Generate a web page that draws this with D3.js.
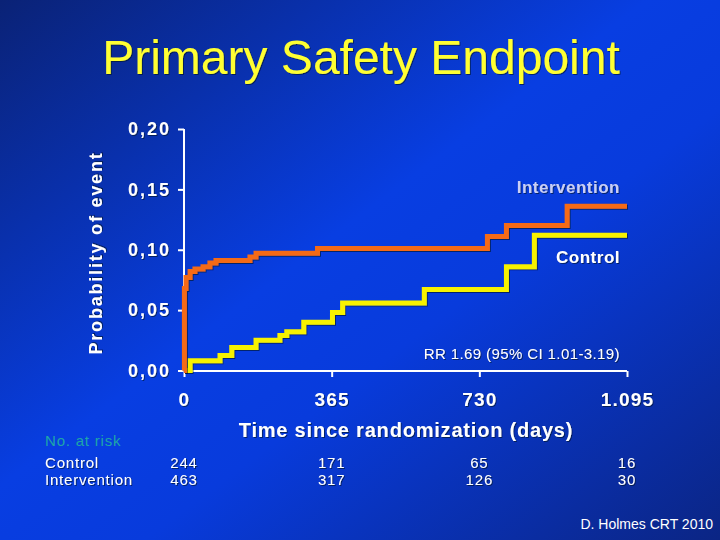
<!DOCTYPE html>
<html><head><meta charset="utf-8">
<script src="https://cdn.jsdelivr.net/npm/d3@7"></script>
<style>html,body{margin:0;padding:0;background:#0a35c8;}svg{display:block;}</style>
</head><body>
<script>
const title = "Primary Safety Endpoint";
const interventionDays = [0, 1, 5, 15, 27, 47, 64, 79, 163, 178, 330, 750, 797, 947, 1095];
const interventionVals = [0, 0.068, 0.077, 0.082, 0.084, 0.086, 0.089, 0.091, 0.094, 0.097, 0.101, 0.111, 0.120, 0.136, 0.136];
const controlDays = [0, 15, 89, 118, 178, 237, 254, 296, 367, 392, 594, 797, 866, 1095];
const controlVals = [0, 0.008, 0.0125, 0.019, 0.025, 0.029, 0.032, 0.040, 0.048, 0.056, 0.067, 0.086, 0.112, 0.112];
const xTicks = [0, 365, 730, 1095];
const xTickLabels = ["0", "365", "730", "1.095"];
const yTicks = [0, 0.05, 0.10, 0.15, 0.20];
const yTickLabels = ["0,00", "0,05", "0,10", "0,15", "0,20"];
const riskGroups = ["Control", "Intervention"];
const riskControl = [244, 171, 65, 16];
const riskIntervention = [463, 317, 126, 30];

const W = 720, H = 540;
const svg = d3.select("body").append("svg").attr("width", W).attr("height", H);
const defs = svg.append("defs");
const g1 = defs.append("linearGradient").attr("id", "bg")
  .attr("x1", "0").attr("y1", "0").attr("x2", "1").attr("y2", "1");
g1.append("stop").attr("offset", "0").attr("stop-color", "#0a2276");
g1.append("stop").attr("offset", "0.45").attr("stop-color", "#083ee2");
g1.append("stop").attr("offset", "0.6").attr("stop-color", "#083bdc");
g1.append("stop").attr("offset", "1").attr("stop-color", "#0b2584");
svg.append("rect").attr("width", W).attr("height", H).attr("fill", "url(#bg)");

const sh = defs.append("filter").attr("id", "sh").attr("x", "-10%").attr("y", "-10%").attr("width", "130%").attr("height", "140%");
sh.append("feDropShadow").attr("dx", 1).attr("dy", 1).attr("stdDeviation", 0.6).attr("flood-color", "#000820").attr("flood-opacity", 0.6);

const font = "'Liberation Sans', Arial, sans-serif";

svg.append("text").text(title).attr("x", 361).attr("y", 74)
  .attr("text-anchor", "middle").attr("font-family", font).attr("font-size", 48)
  .attr("fill", "#ffff33").attr("filter", "url(#sh)");

const x = d3.scaleLinear().domain([0, 1095]).range([184, 627]);
const y = d3.scaleLinear().domain([0, 0.20]).range([370.5, 129]);

// Y axis
const yAxis = svg.append("g").attr("transform", "translate(184,0)")
  .call(d3.axisLeft(y).tickValues(yTicks).tickFormat((d, i) => yTickLabels[i]).tickSize(6).tickPadding(7));
yAxis.select(".domain").attr("stroke", "#fff").attr("stroke-width", 2).attr("d", "M0," + y(0.20) + "V" + y(0));
yAxis.selectAll(".tick line").attr("stroke", "#fff").attr("stroke-width", 2);
yAxis.selectAll(".tick text").attr("fill", "#fff").attr("font-family", font)
  .attr("font-size", 18).attr("font-weight", "bold").attr("letter-spacing", 2).attr("filter", "url(#sh)");

// X axis
const xAxis = svg.append("g").attr("transform", "translate(0,371)")
  .call(d3.axisBottom(x).tickValues(xTicks).tickFormat((d, i) => xTickLabels[i]).tickSize(6).tickPadding(16));
xAxis.select(".domain").attr("stroke", "#fff").attr("stroke-width", 2).attr("d", "M" + x(0) + ",0H" + x(1095));
xAxis.selectAll(".tick line").attr("stroke", "#fff").attr("stroke-width", 2);
xAxis.selectAll(".tick text").attr("fill", "#fff").attr("font-family", font)
  .attr("font-size", 19).attr("font-weight", "bold").attr("letter-spacing", 1.2).attr("filter", "url(#sh)");

svg.append("text").text("Probability of event")
  .attr("transform", "translate(102,253) rotate(-90)").attr("text-anchor", "middle")
  .attr("font-family", font).attr("font-size", 18).attr("font-weight", "bold").attr("letter-spacing", 1.8)
  .attr("fill", "#fff").attr("filter", "url(#sh)");

svg.append("text").text("Time since randomization (days)").attr("x", 406).attr("y", 437)
  .attr("text-anchor", "middle").attr("font-family", font).attr("font-size", 20).attr("font-weight", "bold")
  .attr("letter-spacing", 0.8).attr("fill", "#fff").attr("filter", "url(#sh)");

// Curves
const line = d3.line().curve(d3.curveStepAfter);
const ctrlPts = controlDays.map((d, i) => [x(d), y(controlVals[i])]);
const intPts = interventionDays.map((d, i) => [x(d), y(interventionVals[i])]);
svg.append("path").attr("d", line(ctrlPts)).attr("fill", "none")
  .attr("stroke", "#f7f200").attr("stroke-width", 5).attr("filter", "url(#sh)");
svg.append("path").attr("d", line(intPts)).attr("fill", "none")
  .attr("stroke", "#f56a16").attr("stroke-width", 5).attr("filter", "url(#sh)");

svg.append("text").text("Intervention").attr("x", 620).attr("y", 193)
  .attr("text-anchor", "end").attr("font-family", font).attr("font-size", 17).attr("font-weight", "bold")
  .attr("letter-spacing", 0.5).attr("fill", "#c9cff5").attr("filter", "url(#sh)");
svg.append("text").text("Control").attr("x", 620).attr("y", 263)
  .attr("text-anchor", "end").attr("font-family", font).attr("font-size", 17).attr("font-weight", "bold")
  .attr("letter-spacing", 0.5).attr("fill", "#fff").attr("filter", "url(#sh)");

svg.append("text").text("RR 1.69 (95% CI 1.01-3.19)").attr("x", 620).attr("y", 359)
  .attr("text-anchor", "end").attr("font-family", font).attr("font-size", 15).attr("letter-spacing", 0.4)
  .attr("fill", "#fff").attr("filter", "url(#sh)");

// Number at risk
svg.append("text").text("No. at risk").attr("x", 45).attr("y", 446)
  .attr("font-family", font).attr("font-size", 15).attr("letter-spacing", 0.8).attr("fill", "#1ea5a8");
const rows = [riskControl, riskIntervention];
rows.forEach((vals, r) => {
  const yy = 468 + r * 17;
  svg.append("text").text(riskGroups[r]).attr("x", 45).attr("y", yy)
    .attr("font-family", font).attr("font-size", 15).attr("letter-spacing", 0.8)
    .attr("fill", "#fff").attr("filter", "url(#sh)");
  svg.selectAll(null).data(vals).enter().append("text")
    .text(d => d).attr("x", (d, i) => x(xTicks[i])).attr("y", yy)
    .attr("text-anchor", "middle").attr("font-family", font).attr("font-size", 15).attr("letter-spacing", 0.8)
    .attr("fill", "#fff").attr("filter", "url(#sh)");
});

svg.append("text").text("D. Holmes CRT 2010").attr("x", 713).attr("y", 529)
  .attr("text-anchor", "end").attr("font-family", font).attr("font-size", 14).attr("fill", "#fff");
</script>
</body></html>
